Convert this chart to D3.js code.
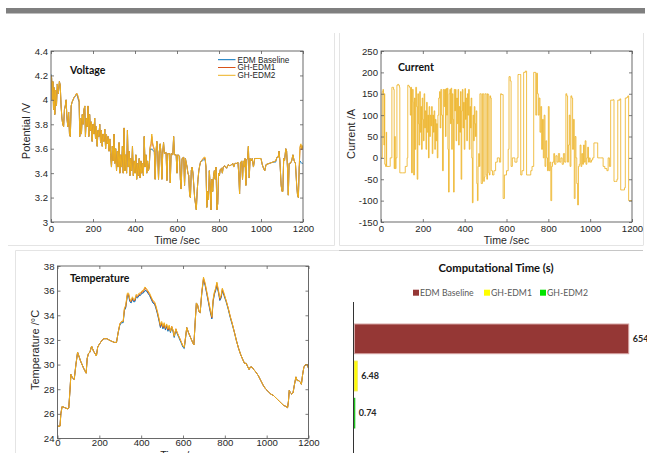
<!DOCTYPE html>
<html>
<head>
<meta charset="utf-8">
<script src="https://cdn.jsdelivr.net/npm/d3@7"></script>
<style>
  body { margin: 0; background: #fff; }
  svg { display: block; }
</style>
</head>
<body>
<svg id="fig" width="647" height="453"></svg>
<script>
// ---------- shared ticks & names ----------
const timeTicks = [0, 200, 400, 600, 800, 1000, 1200];
const voltTicks = [3, 3.2, 3.4, 3.6, 3.8, 4, 4.2, 4.4];
const currTicks = [-150, -100, -50, 0, 50, 100, 150, 200, 250];
const tempTicks = [24, 26, 28, 30, 32, 34, 36, 38];
const seriesNames = ["EDM Baseline", "GH-EDM1", "GH-EDM2"];

// ---------- terminal voltage (V) ----------
const voltTime = [
  0,3,6,9,12,15,18,22,26,30,
  35,40,44,48,52,56,60,64,68,72,
  76,80,84,88,92,96,100,105,110,115,
  120,125,130,134,137,141,145,149,153,157,
  161,164,168,172,176,180,184,188,192,196,
  200,204,208,212,216,220,224,228,232,236,
  240,244,248,252,256,260,264,268,272,276,
  280,284,288,292,296,300,304,308,312,316,
  320,324,328,332,336,340,344,348,352,356,
  360,364,368,372,376,380,384,388,392,396,
  400,404,408,412,416,420,424,428,432,436,
  440,444,448,452,456,460,464,468,472,476,
  480,484,488,492,496,500,504,508,512,516,
  520,524,528,532,536,540,548,552,556,564,
  568,572,580,584,588,596,600,604,612,616,
  620,624,632,636,640,648,652,656,660,664,
  668,672,676,680,684,688,692,696,700,704,
  708,712,716,720,728,734,738,742,746,750,
  754,758,762,766,770,774,778,782,786,790,
  794,798,802,806,812,816,820,828,836,844,
  852,860,866,870,876,884,890,894,898,902,
  908,912,916,920,924,928,932,936,940,944,
  948,952,958,964,970,980,990,1000,1006,1012,
  1018,1024,1040,1056,1070,1076,1082,1086,1090,1096,
  1100,1104,1108,1112,1118,1122,1126,1130,1134,1140,
  1146,1152,1158,1164,1170,1174,1178,1182,1186,1190,
  1194,1200
];
const voltBaseline = [
  4.21,4.18,4.00,4.15,3.92,4.10,3.88,4.08,3.95,4.13,
  4.05,4.15,4.12,3.95,3.85,3.80,3.78,3.92,3.95,4.00,
  3.85,3.78,3.90,3.72,3.70,3.95,3.98,4.00,4.02,4.03,
  4.04,4.04,4.00,3.98,3.70,3.85,3.72,3.88,3.80,3.92,
  3.95,3.70,3.85,3.78,3.95,3.70,3.88,3.75,3.82,3.66,
  3.80,3.72,3.85,3.68,3.78,3.62,3.75,3.70,3.80,3.65,
  3.75,3.62,3.72,3.66,3.76,3.60,3.72,3.64,3.70,3.58,
  3.68,3.55,3.45,3.62,3.50,3.72,3.48,3.60,3.42,3.58,
  3.45,3.65,3.40,3.55,3.45,3.62,3.40,3.77,3.42,3.55,
  3.40,3.75,3.45,3.58,3.38,3.52,3.42,3.62,3.38,3.50,
  3.40,3.55,3.35,3.48,3.38,3.52,3.36,3.50,3.40,3.48,
  3.38,3.70,3.45,3.55,3.40,3.50,3.42,3.45,3.60,3.59,
  3.60,3.59,3.58,3.58,3.35,3.57,3.66,3.57,3.35,3.58,
  3.64,3.56,3.35,3.57,3.65,3.56,3.57,3.34,3.56,3.56,
  3.32,3.56,3.55,3.70,3.55,3.55,3.40,3.55,3.54,3.35,
  3.27,3.52,3.53,3.30,3.52,3.45,3.40,3.38,3.22,3.20,
  3.42,3.45,3.40,3.30,3.20,3.15,3.10,3.25,3.35,3.42,
  3.46,3.49,3.50,3.50,3.51,3.51,3.45,3.12,3.25,3.18,
  3.42,3.30,3.10,3.35,3.25,3.38,3.42,3.35,3.45,3.10,
  3.15,3.40,3.38,3.43,3.44,3.40,3.45,3.46,3.44,3.47,
  3.46,3.47,3.48,3.45,3.48,3.48,3.49,3.40,3.23,3.48,
  3.50,3.35,3.50,3.45,3.52,3.30,3.51,3.52,3.62,3.36,
  3.52,3.50,3.52,3.45,3.52,3.52,3.52,3.52,3.47,3.44,
  3.42,3.47,3.48,3.49,3.49,3.53,3.53,3.58,3.50,3.30,
  3.25,3.25,3.52,3.50,3.60,3.58,3.45,3.22,3.48,3.48,
  3.50,3.55,3.50,3.48,3.30,3.22,3.20,3.45,3.50,3.49,
  3.48,3.48
];
const voltGH1 = [
  4.20,4.18,4.00,4.15,3.92,4.10,3.88,4.08,3.95,4.13,
  4.05,4.15,4.12,3.95,3.85,3.80,3.78,3.92,3.95,4.00,
  3.85,3.78,3.90,3.72,3.70,3.95,3.98,4.00,4.02,4.03,
  4.05,4.05,4.01,3.99,3.70,3.85,3.72,3.88,3.80,3.92,
  3.95,3.70,3.85,3.78,3.95,3.70,3.88,3.75,3.82,3.66,
  3.80,3.72,3.85,3.68,3.78,3.62,3.75,3.70,3.80,3.65,
  3.75,3.62,3.72,3.66,3.76,3.60,3.72,3.64,3.70,3.58,
  3.68,3.55,3.45,3.62,3.50,3.72,3.48,3.60,3.42,3.58,
  3.45,3.65,3.40,3.55,3.45,3.62,3.40,3.77,3.42,3.55,
  3.40,3.75,3.45,3.58,3.38,3.52,3.42,3.62,3.38,3.50,
  3.40,3.55,3.35,3.48,3.38,3.52,3.36,3.50,3.40,3.48,
  3.38,3.70,3.45,3.55,3.40,3.50,3.42,3.45,3.61,3.62,
  3.70,3.63,3.61,3.59,3.35,3.58,3.66,3.57,3.35,3.58,
  3.64,3.56,3.35,3.57,3.65,3.56,3.57,3.34,3.56,3.56,
  3.32,3.56,3.55,3.70,3.55,3.55,3.40,3.55,3.54,3.35,
  3.27,3.52,3.53,3.30,3.52,3.45,3.40,3.38,3.22,3.20,
  3.42,3.45,3.40,3.30,3.20,3.15,3.10,3.25,3.35,3.42,
  3.46,3.49,3.50,3.51,3.52,3.52,3.45,3.12,3.25,3.18,
  3.42,3.30,3.10,3.35,3.25,3.38,3.42,3.35,3.45,3.10,
  3.15,3.40,3.38,3.43,3.44,3.40,3.45,3.46,3.44,3.47,
  3.46,3.47,3.48,3.45,3.48,3.48,3.49,3.40,3.23,3.48,
  3.50,3.35,3.50,3.45,3.52,3.30,3.51,3.52,3.62,3.36,
  3.52,3.50,3.52,3.45,3.52,3.52,3.52,3.52,3.47,3.44,
  3.42,3.47,3.48,3.49,3.50,3.53,3.53,3.58,3.50,3.30,
  3.25,3.25,3.52,3.50,3.60,3.58,3.45,3.22,3.48,3.48,
  3.50,3.55,3.50,3.48,3.30,3.22,3.20,3.45,3.61,3.63,
  3.59,3.62
];
const voltGH2 = [
  4.20,4.18,4.00,4.15,3.92,4.10,3.88,4.08,3.95,4.13,
  4.05,4.15,4.12,3.95,3.85,3.80,3.78,3.92,3.95,4.00,
  3.85,3.78,3.90,3.72,3.70,3.95,3.98,4.00,4.02,4.03,
  4.05,4.05,4.02,4.00,3.70,3.85,3.72,3.88,3.80,3.92,
  3.95,3.70,3.85,3.78,3.95,3.70,3.88,3.75,3.82,3.66,
  3.80,3.72,3.85,3.68,3.78,3.62,3.75,3.70,3.80,3.65,
  3.75,3.62,3.72,3.66,3.76,3.60,3.72,3.64,3.70,3.58,
  3.68,3.55,3.45,3.62,3.50,3.72,3.48,3.60,3.42,3.58,
  3.45,3.65,3.40,3.55,3.45,3.62,3.40,3.77,3.42,3.55,
  3.40,3.75,3.45,3.58,3.38,3.52,3.42,3.62,3.38,3.50,
  3.40,3.55,3.35,3.48,3.38,3.52,3.36,3.50,3.40,3.48,
  3.38,3.70,3.45,3.55,3.40,3.50,3.42,3.45,3.62,3.64,
  3.72,3.65,3.62,3.60,3.35,3.58,3.66,3.57,3.35,3.58,
  3.64,3.56,3.35,3.57,3.65,3.56,3.57,3.34,3.56,3.56,
  3.32,3.56,3.55,3.70,3.55,3.55,3.40,3.55,3.54,3.35,
  3.27,3.52,3.53,3.30,3.52,3.45,3.40,3.38,3.22,3.20,
  3.42,3.45,3.40,3.30,3.20,3.15,3.10,3.25,3.35,3.42,
  3.46,3.49,3.50,3.51,3.53,3.53,3.45,3.12,3.25,3.18,
  3.42,3.30,3.10,3.35,3.25,3.38,3.42,3.35,3.45,3.10,
  3.15,3.40,3.38,3.43,3.44,3.40,3.45,3.46,3.44,3.47,
  3.46,3.47,3.48,3.45,3.48,3.48,3.49,3.40,3.23,3.48,
  3.50,3.35,3.50,3.45,3.52,3.30,3.51,3.52,3.62,3.36,
  3.52,3.50,3.52,3.45,3.52,3.52,3.52,3.52,3.47,3.44,
  3.42,3.47,3.48,3.49,3.50,3.53,3.53,3.58,3.50,3.30,
  3.25,3.25,3.52,3.50,3.60,3.58,3.45,3.22,3.48,3.48,
  3.50,3.55,3.50,3.48,3.30,3.22,3.20,3.45,3.62,3.64,
  3.60,3.63
];

// ---------- applied current profile (A), shared by all three models ----------
const currTime = [
  0,4,6,9,12,14,16,18,22,25,
  27,40,44,48,52,56,60,63,66,68,
  72,76,80,84,88,90,104,116,120,125,
  128,132,136,140,143,146,150,154,156,160,
  163,166,170,173,176,179,182,185,188,191,
  194,197,200,203,206,209,212,215,218,221,
  224,227,230,233,236,239,242,245,248,251,
  254,257,260,263,266,269,272,276,280,283,
  286,290,294,298,302,305,308,311,314,317,
  320,323,326,329,332,335,338,341,344,347,
  350,353,356,359,362,365,368,371,374,377,
  380,383,386,389,392,395,398,401,404,407,
  410,413,416,419,422,425,428,431,434,437,
  440,443,446,449,452,455,458,461,464,467,
  470,473,476,479,482,485,488,491,494,497,
  500,503,506,509,512,515,518,521,524,527,
  530,533,540,548,556,566,572,576,584,590,
  600,608,612,618,622,628,640,650,655,662,
  668,674,682,690,696,712,716,722,730,736,
  740,744,748,752,756,760,764,768,772,776,
  780,784,788,792,796,800,804,808,812,816,
  820,826,830,836,842,848,854,860,866,872,
  878,884,888,892,896,900,904,908,912,916,
  920,924,928,932,936,940,944,948,952,956,
  960,964,968,972,976,980,984,988,992,996,
  1000,1006,1012,1018,1030,1036,1050,1062,1070,1080,
  1086,1092,1098,1106,1110,1114,1122,1128,1132,1138,
  1142,1146,1156,1164,1168,1176,1180,1184,1200
];
const currAmps = [
  0,0,155,160,150,30,150,-15,-20,60,
  -20,-20,0,0,165,165,160,-25,50,-25,
  0,170,172,170,165,-35,-35,-20,-20,0,
  170,168,165,100,165,-35,160,130,-40,140,
  20,165,120,-50,150,80,30,155,60,120,
  20,140,90,40,150,70,110,20,130,60,
  100,0,120,50,100,75,120,10,100,60,
  110,20,90,40,80,0,100,140,155,70,
  160,100,-30,160,120,160,50,162,100,163,
  20,-80,150,160,80,163,20,150,90,-80,
  160,110,160,40,140,80,160,30,120,60,
  155,-50,110,160,70,130,20,162,90,140,
  40,150,100,160,20,120,70,140,0,-105,
  100,40,120,80,50,110,-60,-100,-20,10,
  -20,150,150,-60,-60,150,150,-55,-45,150,
  150,-40,-50,150,148,-35,-40,145,140,-30,
  -30,-40,-30,-10,0,-10,150,148,-95,-40,
  -30,20,190,180,-20,0,-10,0,195,195,
  -40,-30,200,203,-40,-40,-30,-20,200,200,
  100,198,150,100,140,60,120,20,90,0,
  100,-20,40,0,-30,120,-30,-10,-100,-20,
  -10,10,-15,5,-10,10,-10,0,-15,10,
  -10,150,145,-10,30,100,-20,145,140,20,
  90,-95,50,0,-60,-110,-20,-15,30,-20,
  10,-15,30,-10,40,-15,0,25,-10,0,
  -10,-5,0,35,35,0,0,-20,-25,-30,
  0,-20,135,135,136,-55,-55,-50,135,135,
  138,-75,-75,-70,140,142,145,-100,-100
];

// ---------- cell temperature (deg C) ----------
const tempTime = [
  0,12,16,22,35,50,54,60,64,72,
  80,88,96,110,125,137,142,148,155,163,
  172,186,192,198,206,214,222,236,246,258,
  272,282,290,298,306,314,320,326,334,340,
  346,352,358,364,370,376,382,390,396,404,
  410,418,424,432,440,448,456,464,470,478,
  486,492,498,504,510,516,522,528,534,540,
  546,552,558,566,572,580,590,600,606,612,
  618,626,636,646,652,658,664,670,676,682,
  690,698,706,714,722,730,738,744,750,756,
  762,770,776,782,788,796,806,816,826,836,
  846,856,866,876,886,894,902,910,916,922,
  930,938,948,960,972,984,996,1008,1020,1032,
  1044,1056,1068,1080,1092,1100,1104,1108,1114,1120,
  1126,1132,1140,1146,1152,1160,1166,1172,1178,1186,
  1194,1200
];
const tempBaseline = [
  25.0,25.0,26.0,26.6,26.5,26.4,26.5,28.0,29.2,28.9,
  28.8,30.0,31.0,30.3,29.7,29.3,30.5,30.9,31.0,31.5,
  31.1,30.7,31.4,31.6,31.8,32.0,32.1,32.1,32.0,31.9,
  31.8,31.8,32.6,33.2,33.4,33.4,34.4,34.6,35.6,35.6,
  35.1,35.0,35.3,35.1,35.1,35.5,35.4,35.6,35.6,35.8,
  35.8,36.0,36.0,35.8,35.6,35.3,35.0,34.9,34.6,34.1,
  33.5,33.0,33.3,32.9,33.2,32.8,33.1,32.7,33.0,32.6,
  33.0,32.7,32.2,32.8,32.5,32.2,31.8,31.4,31.3,32.1,
  33.0,32.6,32.2,31.8,31.6,33.4,35.0,34.8,34.3,34.2,
  35.8,36.9,36.4,35.7,35.0,34.3,33.7,35.1,35.7,36.0,
  36.4,35.8,35.2,35.4,36.0,35.6,35.1,34.5,33.8,33.2,
  32.6,31.9,31.3,30.8,30.4,30.1,30.1,29.8,29.6,29.8,
  29.8,29.6,29.4,29.1,28.7,28.3,28.0,27.8,27.6,27.5,
  27.3,27.1,26.9,26.7,26.6,26.5,27.0,27.9,27.7,27.6,
  27.7,28.3,29.0,28.7,28.7,28.6,28.4,29.2,29.8,30.0,
  30.0,29.7
];
const tempGH1 = [
  25.0,25.0,26.0,26.6,26.5,26.4,26.5,28.0,29.2,28.9,
  28.8,30.0,31.0,30.3,29.7,29.3,30.5,30.9,31.0,31.5,
  31.1,30.7,31.4,31.6,31.8,32.0,32.1,32.1,32.0,31.9,
  31.8,31.8,32.6,33.3,33.5,33.5,34.5,34.7,35.7,35.7,
  35.2,35.1,35.4,35.2,35.2,35.6,35.5,35.7,35.7,35.9,
  35.9,36.2,36.1,35.9,35.7,35.4,35.1,35.0,34.7,34.2,
  33.6,33.1,33.4,33.0,33.3,32.9,33.2,32.8,33.1,32.7,
  33.1,32.8,32.3,32.9,32.6,32.3,31.9,31.5,31.4,32.2,
  33.0,32.6,32.2,31.8,31.6,33.4,35.0,34.8,34.3,34.2,
  35.9,37.0,36.5,35.8,35.1,34.4,33.8,35.2,35.8,36.1,
  36.6,35.9,35.3,35.5,36.1,35.7,35.2,34.6,33.9,33.3,
  32.6,31.9,31.3,30.8,30.4,30.1,30.1,29.8,29.6,29.8,
  29.8,29.6,29.4,29.1,28.7,28.3,28.0,27.8,27.6,27.5,
  27.3,27.1,26.9,26.7,26.6,26.5,27.0,27.9,27.7,27.6,
  27.7,28.3,29.0,28.7,28.7,28.6,28.4,29.2,29.8,30.0,
  30.0,29.7
];
const tempGH2 = [
  25.0,25.0,26.0,26.6,26.5,26.4,26.5,28.0,29.2,28.9,
  28.8,30.0,31.0,30.3,29.7,29.3,30.5,30.9,31.0,31.5,
  31.1,30.7,31.4,31.6,31.8,32.0,32.1,32.1,32.0,31.9,
  31.8,31.8,32.6,33.3,33.5,33.5,34.6,34.8,35.8,35.8,
  35.3,35.2,35.5,35.3,35.3,35.7,35.6,35.8,35.8,36.0,
  36.0,36.3,36.2,36.0,35.8,35.5,35.2,35.1,34.8,34.3,
  33.7,33.2,33.5,33.1,33.4,33.0,33.3,32.9,33.2,32.7,
  33.1,32.8,32.3,32.9,32.6,32.3,31.9,31.5,31.4,32.2,
  33.0,32.6,32.2,31.8,31.6,33.4,35.0,34.8,34.3,34.2,
  35.9,37.1,36.6,35.9,35.2,34.5,33.9,35.3,35.9,36.2,
  36.7,36.0,35.4,35.6,36.2,35.8,35.2,34.6,33.9,33.3,
  32.6,31.9,31.3,30.8,30.4,30.1,30.1,29.8,29.6,29.8,
  29.8,29.6,29.4,29.1,28.7,28.3,28.0,27.8,27.6,27.5,
  27.3,27.1,26.9,26.7,26.6,26.5,27.0,27.9,27.7,27.6,
  27.7,28.3,29.0,28.7,28.7,28.6,28.4,29.2,29.8,30.0,
  30.0,29.7
];

// ---------- computational time (s) ----------
const costModels = ["EDM Baseline", "GH-EDM1", "GH-EDM2"];
const costSeconds = [654, 6.48, 0.74];
const costLabels = ["654", "6.48", "0.74"];

// ---------- styling ----------
const lineColors = ["#0072BD", "#D95319", "#EDB120"];
const barColors = ["#953735", "#FFFF00", "#00E400"];
const barEdges = ["#d6a3a2", "#f2e94a", "#22c422"];
const TICK_FONT = "'Liberation Sans', Arial, Helvetica, sans-serif";
const NOTE_FONT = "Lato, 'Open Sans', sans-serif";
const AXIS_INK = "#5a5a5a";
const TEXT_INK = "#262626";

const svg = d3.select("#fig");

// page furniture: header band and the faint panel frames
svg.append("rect").attr("x", 6).attr("y", 8).attr("width", 639).attr("height", 5.5).attr("fill", "#7f7f7f");
const frames = svg.append("g").attr("fill", "none").attr("stroke-width", 1);
frames.append("path").attr("d", "M334.5,33V245.5H8").attr("stroke", "#e4e4e4");
frames.append("path").attr("d", "M339.5,33V245.5H643M643.5,33V245.5").attr("stroke", "#e4e4e4");
frames.append("path").attr("d", "M15.5,453V250.5H339").attr("stroke", "#e4e4e4");
frames.append("path").attr("d", "M339,250.5H643").attr("stroke", "#c6c6c6");

// one MATLAB-style time-series panel
function timePanel(cfg) {
  const x = d3.scaleLinear().domain([0, 1200]).range([cfg.left, cfg.right]);
  const y = d3.scaleLinear().domain(cfg.yDomain).range([cfg.bottom, cfg.top]);
  const g = svg.append("g");

  const clipId = cfg.id + "-clip";
  g.append("clipPath").attr("id", clipId).append("rect")
    .attr("x", cfg.left).attr("y", cfg.top)
    .attr("width", cfg.right - cfg.left).attr("height", cfg.bottom - cfg.top);

  const plot = g.append("g").attr("clip-path", `url(#${clipId})`);
  cfg.series.forEach(s => {
    const line = d3.line()
      .x(i => x(s.time[i]))
      .y(i => y(s.values[i]))
      .curve(s.curve || d3.curveLinear);
    plot.append("path")
      .attr("d", line(d3.range(s.values.length)))
      .attr("fill", "none")
      .attr("stroke", s.color)
      .attr("stroke-width", s.width || 1)
      .attr("stroke-opacity", s.opacity || 1)
      .attr("stroke-linejoin", "round");
  });

  const styleAxis = sel => {
    sel.select(".domain").remove();
    sel.selectAll(".tick line").attr("stroke", AXIS_INK).attr("stroke-width", 0.8);
    sel.selectAll(".tick text").attr("fill", TEXT_INK)
      .style("font-family", TICK_FONT).style("font-size", "9.6px");
  };
  const plain = d => String(d);

  g.append("g").attr("transform", `translate(0,${cfg.bottom})`)
    .call(d3.axisBottom(x).tickValues(timeTicks).tickSizeInner(-3).tickSizeOuter(0)
      .tickPadding(cfg.xPad).tickFormat(plain))
    .call(styleAxis);
  g.append("g").attr("transform", `translate(0,${cfg.top})`)
    .call(d3.axisTop(x).tickValues(timeTicks).tickSizeInner(-3).tickSizeOuter(0).tickFormat(""))
    .call(styleAxis);
  g.append("g").attr("transform", `translate(${cfg.left},0)`)
    .call(d3.axisLeft(y).tickValues(cfg.yTicks).tickSizeInner(-3).tickSizeOuter(0).tickPadding(3).tickFormat(plain))
    .call(styleAxis);
  g.append("g").attr("transform", `translate(${cfg.right},0)`)
    .call(d3.axisRight(y).tickValues(cfg.yTicks).tickSizeInner(-3).tickSizeOuter(0).tickFormat(""))
    .call(styleAxis);

  g.append("rect")
    .attr("x", cfg.left).attr("y", cfg.top)
    .attr("width", cfg.right - cfg.left).attr("height", cfg.bottom - cfg.top)
    .attr("fill", "none").attr("stroke", AXIS_INK).attr("stroke-width", 0.9);

  // axis titles
  g.append("text")
    .attr("x", (cfg.left + cfg.right) / 2).attr("y", cfg.xTitleY)
    .attr("text-anchor", "middle").attr("fill", TEXT_INK)
    .style("font-family", TICK_FONT).style("font-size", "10.6px")
    .text("Time /sec");
  g.append("text")
    .attr("transform", `translate(${cfg.yTitleX},${cfg.yTitleCy}) rotate(-90)`)
    .attr("text-anchor", "middle").attr("fill", TEXT_INK)
    .style("font-family", TICK_FONT).style("font-size", "11px")
    .text(cfg.yTitle);

  // panel caption
  g.append("text")
    .attr("x", cfg.noteX).attr("y", cfg.noteY)
    .attr("fill", "#111").style("font-family", NOTE_FONT)
    .style("font-size", "10.5px").style("font-weight", 700)
    .text(cfg.note);

  return { x, y, g };
}

const voltPanel = timePanel({
  id: "volt", left: 51, right: 303, top: 51, bottom: 222,
  yDomain: [3, 4.4], yTicks: voltTicks, xPad: 3,
  xTitleY: 244, yTitleX: 29.5, yTitleCy: 131, yTitle: "Potential /V",
  note: "Voltage", noteX: 70, noteY: 73.5,
  series: [
    { time: voltTime, values: voltBaseline, color: lineColors[0], width: 0.8 },
    { time: voltTime, values: voltGH1, color: lineColors[1], width: 0.8 },
    { time: voltTime, values: voltGH2, color: lineColors[2], width: 1 }
  ]
});

// legend of the voltage panel
const vLegend = voltPanel.g.append("g");
seriesNames.forEach((name, i) => {
  const yy = 59.7 + i * 7.8;
  vLegend.append("line").attr("x1", 218).attr("x2", 235.5).attr("y1", yy).attr("y2", yy)
    .attr("stroke", lineColors[i]).attr("stroke-width", 1);
  vLegend.append("text").attr("x", 237.5).attr("y", yy).attr("dy", "0.35em")
    .attr("fill", TEXT_INK).style("font-family", TICK_FONT).style("font-size", "8.2px")
    .text(name);
});

timePanel({
  id: "curr", left: 381, right: 632, top: 51, bottom: 222,
  yDomain: [-150, 250], yTicks: currTicks, xPad: 3,
  xTitleY: 244, yTitleX: 354.5, yTitleCy: 134, yTitle: "Current /A",
  note: "Current", noteX: 398, noteY: 70.5,
  series: [
    { time: currTime, values: currAmps, color: lineColors[2], curve: d3.curveStepAfter, width: 0.9, opacity: 0.9 }
  ]
});

timePanel({
  id: "temp", left: 57.5, right: 308.5, top: 266, bottom: 438.5,
  yDomain: [24, 38], yTicks: tempTicks, xPad: 1,
  xTitleY: 458.5, yTitleX: 39, yTitleCy: 350, yTitle: "Temperature /\u00B0C",
  note: "Temperature", noteX: 70, noteY: 282,
  series: [
    { time: tempTime, values: tempBaseline, color: lineColors[0] },
    { time: tempTime, values: tempGH1, color: lineColors[1] },
    { time: tempTime, values: tempGH2, color: lineColors[2] }
  ]
});

// ---------- computational time bars ----------
const bars = svg.append("g");
const bx = d3.scaleLinear().domain([0, 654]).range([354.5, 628.7]);
const by = d3.scaleBand().domain(costModels).range([324, 428]).paddingInner(0.2).paddingOuter(0);

bars.append("text")
  .attr("x", 496).attr("y", 272)
  .attr("text-anchor", "middle").attr("fill", "#111")
  .style("font-family", NOTE_FONT).style("font-size", "12px").style("font-weight", 700)
  .attr("textLength", 115).attr("lengthAdjust", "spacingAndGlyphs")
  .text("Computational Time (s)");

const legendX = [413, 484, 540];
costModels.forEach((name, i) => {
  bars.append("rect").attr("x", legendX[i]).attr("y", 289.7).attr("width", 6).attr("height", 6)
    .attr("fill", barColors[i]);
  bars.append("text").attr("x", legendX[i] + 7).attr("y", 292.7).attr("dy", "0.35em")
    .attr("fill", "#595959").style("font-family", NOTE_FONT).style("font-size", "8.7px")
    .text(name);
});

bars.selectAll("rect.bar")
  .data(costModels)
  .join("rect")
  .attr("class", "bar")
  .attr("x", bx(0))
  .attr("y", d => by(d))
  .attr("width", (d, i) => bx(costSeconds[i]) - bx(0))
  .attr("height", by.bandwidth())
  .attr("fill", (d, i) => barColors[i])
  .attr("stroke", (d, i) => barEdges[i])
  .attr("stroke-width", 1);

bars.selectAll("text.value")
  .data(costModels)
  .join("text")
  .attr("class", "value")
  .attr("x", (d, i) => bx(costSeconds[i]) + 4)
  .attr("y", d => by(d) + by.bandwidth() / 2)
  .attr("dy", "0.35em")
  .attr("fill", TEXT_INK)
  .style("font-family", NOTE_FONT).style("font-size", "9px").style("font-weight", 700)
  .text((d, i) => costLabels[i]);

bars.append("line")
  .attr("x1", 353.5).attr("x2", 353.5).attr("y1", 302).attr("y2", 453)
  .attr("stroke", "#333").attr("stroke-width", 1);
</script>
</body>
</html>
